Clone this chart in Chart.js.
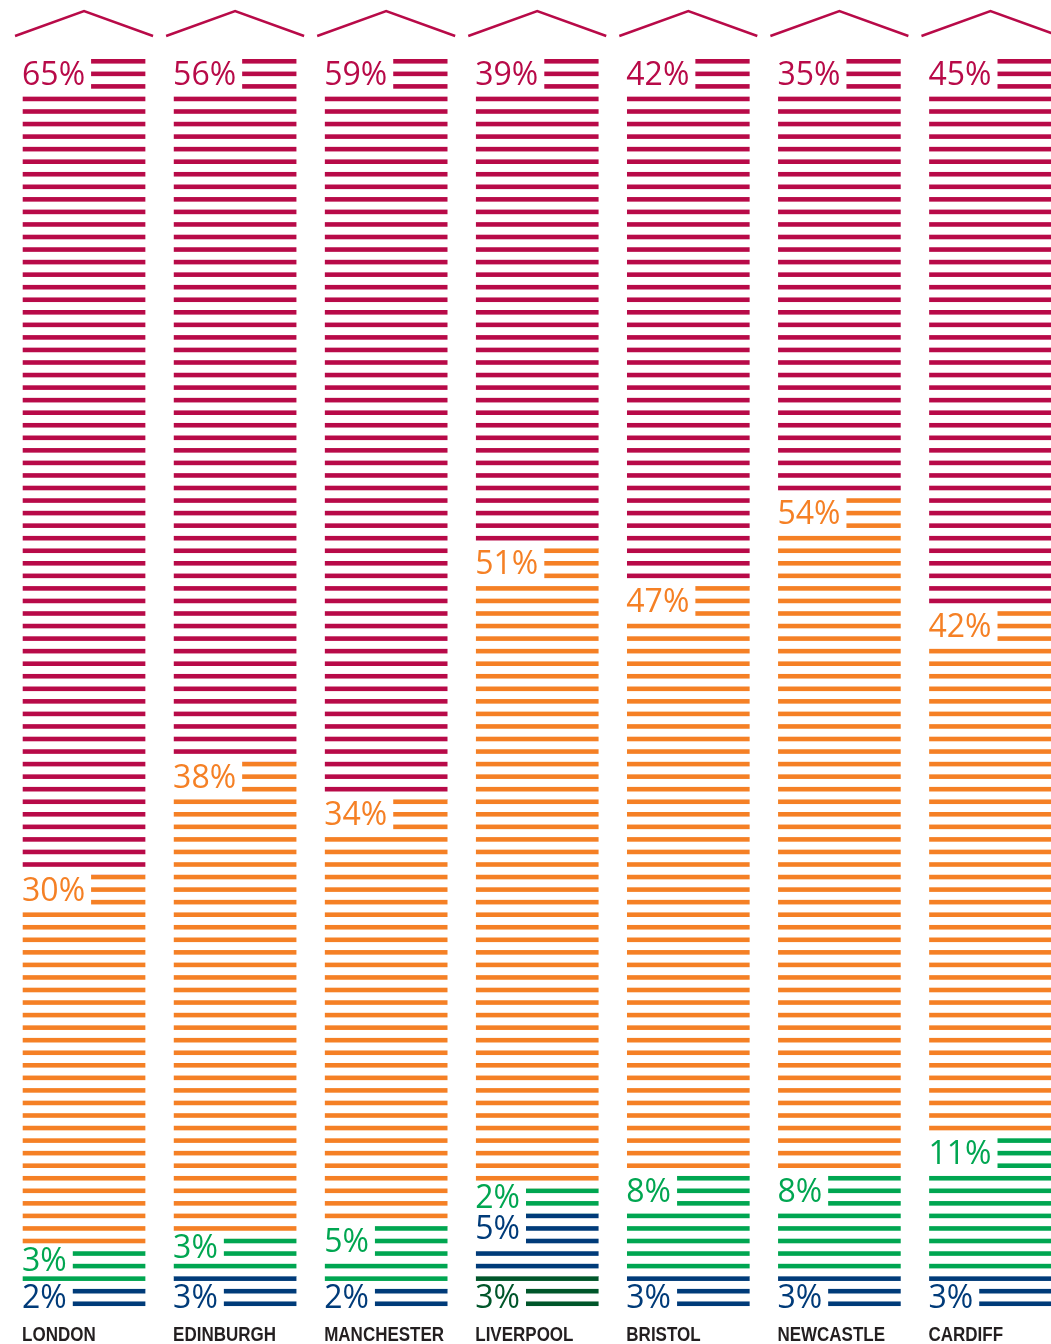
<!DOCTYPE html>
<html>
<head>
<meta charset="utf-8">
<script src="https://cdn.jsdelivr.net/npm/chart.js@4/dist/chart.umd.min.js"></script>
<style>
  html, body { margin: 0; padding: 0; background: #fff; overflow: hidden; }
  #wrap { width: 1080px; height: 1344px; }
</style>
</head>
<body>
<div id="wrap"><canvas id="c" width="1080" height="1344"></canvas></div>
<script>
// share of each city, bottom of the column first
const cities = ['LONDON', 'EDINBURGH', 'MANCHESTER', 'LIVERPOOL', 'BRISTOL', 'NEWCASTLE', 'CARDIFF'];
const darkGreenVals = [0, 0, 0, 3, 0, 0, 0];
const blueVals = [2, 3, 2, 5, 3, 3, 3];
const greenVals = [3, 3, 5, 2, 8, 8, 11];
const orangeVals = [30, 38, 34, 51, 47, 54, 42];
const redVals = [65, 56, 59, 39, 42, 35, 45];

const RED = '#B80A48';
const ORANGE = '#F58025';
const GREEN = '#00A651';
const BLUE = '#003B79';
const DARKGREEN = '#00562A';

const STRIPE = 4.6;   // painted part of each 1% step
const BAR_W = 122;

// white gaps between stripes, labels, roofs, city names
const stripesPlugin = {
    id: 'stripes',
    afterDatasetsDraw(chart) {
        const ctx = chart.ctx;
        const y = chart.scales.y;
        const x = chart.scales.x;
        const area = chart.chartArea;
        const sets = chart.data.datasets;

        ctx.save();
        ctx.fillStyle = '#fff';
        for (let k = 0; k < 100; k++) {
            const top = y.getPixelForValue(k + 1) + STRIPE;
            const bottom = y.getPixelForValue(k);
            ctx.fillRect(area.left, top, area.right - area.left, bottom - top);
        }

        const step = y.getPixelForValue(0) - y.getPixelForValue(1);
        ctx.font = '500 32px "Open Sans", sans-serif';
        sets.forEach((ds, di) => {
            ds.data.forEach((v, j) => {
                if (!v) return;
                let base = 0;
                for (let d = 0; d < di; d++) base += sets[d].data[j];
                const top = Math.min(base + v, 100);
                // small parts get a two-stripe label, the lowest part is labelled at its foot
                const n = v <= 3 || base === 0 ? 2 : 3;
                const first = base === 0 ? base + n : top;
                const yTop = y.getPixelForValue(first);
                const left = x.getPixelForValue(j) - BAR_W / 2;
                const txt = v + '%';
                const w = ctx.measureText(txt).width;
                const blockH = (n - 1) * step + STRIPE;
                ctx.fillStyle = '#fff';
                ctx.fillRect(left - 2, yTop - 1, w + 7, blockH + 2);
                ctx.fillStyle = ds.backgroundColor;
                ctx.textAlign = 'left';
                ctx.textBaseline = 'alphabetic';
                ctx.fillText(txt, left - 1, yTop + blockH / 2 + 11);
            });
        });

        // roofs
        ctx.strokeStyle = RED;
        ctx.lineWidth = 2.4;
        cities.forEach((c, j) => {
            const cx = x.getPixelForValue(j);
            ctx.beginPath();
            ctx.moveTo(cx - 69, 36);
            ctx.lineTo(cx, 11);
            ctx.lineTo(cx + 69, 36);
            ctx.stroke();
        });

        // city names, squeezed like a narrow face
        ctx.fillStyle = '#231F20';
        ctx.font = 'bold 20px "Liberation Sans", Arial, sans-serif';
        cities.forEach((c, j) => {
            ctx.save();
            ctx.translate(x.getPixelForValue(j) - BAR_W / 2 - 1, 1341);
            ctx.scale(0.85, 1);
            ctx.fillText(c, 0, 0);
            ctx.restore();
        });
        ctx.restore();
    }
};

const ctx = document.getElementById('c').getContext('2d');
new Chart(ctx, {
    type: 'bar',
    data: {
        labels: cities,
        datasets: [
            { data: darkGreenVals, backgroundColor: DARKGREEN },
            { data: blueVals, backgroundColor: BLUE },
            { data: greenVals, backgroundColor: GREEN },
            { data: orangeVals, backgroundColor: ORANGE },
            { data: redVals, backgroundColor: RED }
        ]
    },
    options: {
        responsive: false,
        animation: false,
        devicePixelRatio: 1,
        layout: { padding: { top: 59, bottom: 30, left: 8.5, right: 14 } },
        datasets: { bar: { barThickness: BAR_W, borderWidth: 0, clip: 0 } },
        plugins: { legend: { display: false }, tooltip: { enabled: false } },
        scales: {
            x: { display: false, stacked: true },
            y: { display: false, stacked: true, min: 0, max: 100 }
        }
    },
    plugins: [stripesPlugin]
});
</script>
</body>
</html>
